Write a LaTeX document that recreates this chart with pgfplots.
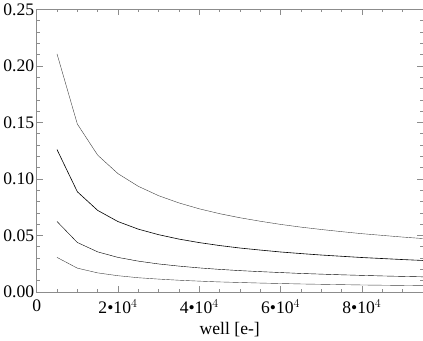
\documentclass[border=0pt]{standalone}
\usepackage{fontspec}
\setmainfont{Liberation Serif}
\usepackage{pgfplots}
\pgfplotsset{compat=1.18}
\newcommand{\lblfont}{\fontsize{17.5}{19}\selectfont\rmfamily}
\begin{document}
\begin{tikzpicture}
\begin{axis}[
  scale only axis,
  width=384pt, height=281pt,
  xmin=0, xmax=95000, ymin=0, ymax=0.25,
  axis line style={draw=black!45},
  every tick/.style={draw=black!45},
  tick align=inside,
  major tick length=6pt, minor tick length=3pt,
  xtick={0,20000,40000,60000,80000},
  xticklabels={0,2•10$^4$,4•10$^4$,6•10$^4$,8•10$^4$},
  minor xtick={5000,10000,...,95000},
  ytick={0,0.05,0.1,0.15,0.2,0.25},
  minor ytick={0.01,0.02,...,0.25},
  tick label style={font=\lblfont},
  label style={font=\lblfont},
  xticklabel style={yshift=-4pt},
  yticklabel style={xshift=1pt,/pgf/number format/.cd,fixed,fixed zerofill,precision=2,assume math mode=true},
  scaled y ticks=false,
  scaled x ticks=false,
  xlabel={well [e-]},
  xlabel style={yshift=-2pt},
  cycle list={{draw=black!75, line width=0.6pt, mark=none}},
]
\addplot coordinates {(5000,0.2106)(10000,0.1485)(15000,0.1210)(20000,0.1046)(25000,0.0934)(30000,0.0851)(35000,0.0787)(40000,0.0735)(45000,0.0692)(50000,0.0656)(55000,0.0625)(60000,0.0597)(65000,0.0573)(70000,0.0552)(75000,0.0533)(80000,0.0515)(85000,0.0500)(90000,0.0485)(95000,0.0472)};
\addplot coordinates {(5000,0.1259)(10000,0.0886)(15000,0.0721)(20000,0.0622)(25000,0.0555)(30000,0.0506)(35000,0.0467)(40000,0.0436)(45000,0.0410)(50000,0.0388)(55000,0.0370)(60000,0.0353)(65000,0.0339)(70000,0.0326)(75000,0.0315)(80000,0.0304)(85000,0.0295)(90000,0.0286)(95000,0.0278)};
\addplot coordinates {(5000,0.0623)(10000,0.0437)(15000,0.0354)(20000,0.0305)(25000,0.0272)(30000,0.0247)(35000,0.0228)(40000,0.0212)(45000,0.0199)(50000,0.0188)(55000,0.0179)(60000,0.0171)(65000,0.0163)(70000,0.0157)(75000,0.0151)(80000,0.0146)(85000,0.0141)(90000,0.0137)(95000,0.0133)};
\addplot coordinates {(5000,0.0305)(10000,0.0210)(15000,0.0168)(20000,0.0143)(25000,0.0125)(30000,0.0113)(35000,0.0103)(40000,0.0095)(45000,0.0088)(50000,0.0083)(55000,0.0078)(60000,0.0074)(65000,0.0070)(70000,0.0067)(75000,0.0064)(80000,0.0061)(85000,0.0059)(90000,0.0057)(95000,0.0055)};
\end{axis}
\end{tikzpicture}
\end{document}
